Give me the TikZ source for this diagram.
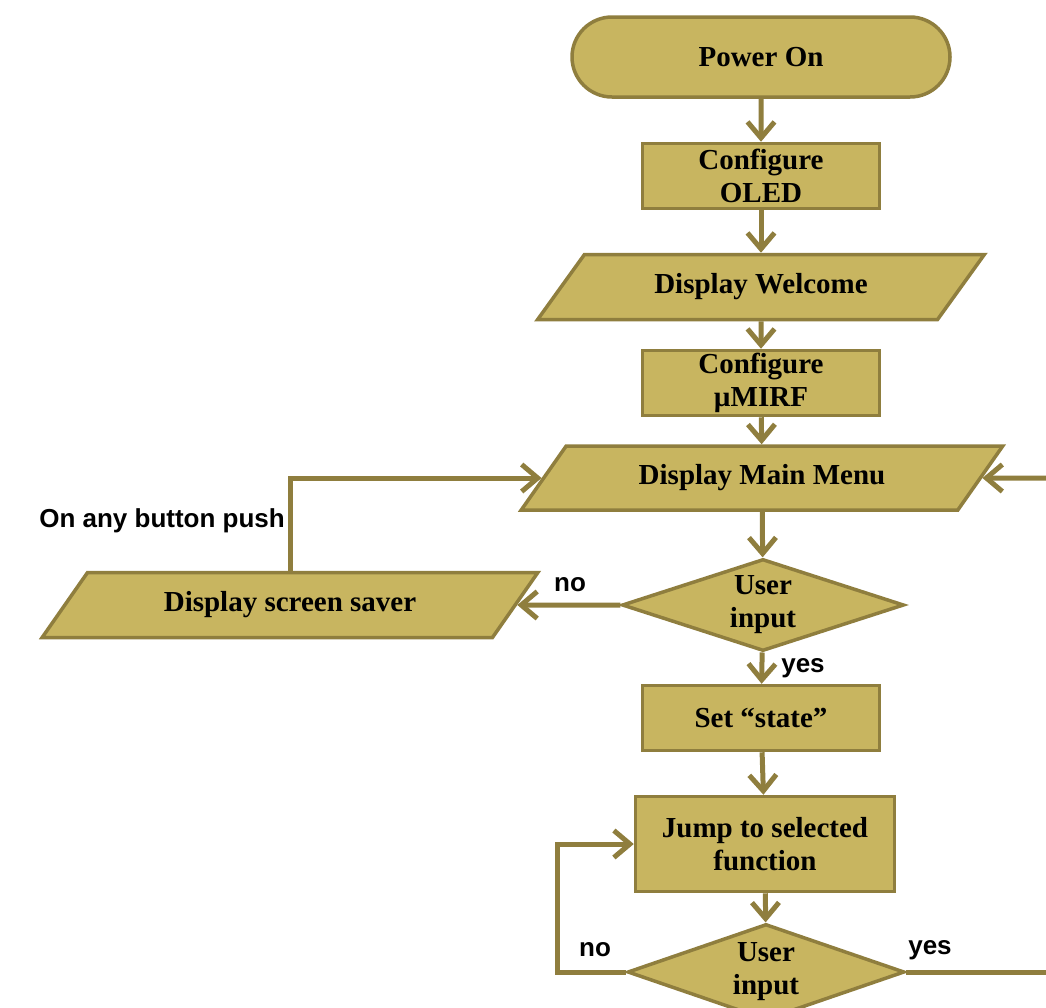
\documentclass[tikz,border=0pt]{standalone}
\usepackage{fontspec}
\setmainfont{Liberation Serif}
\newfontfamily\labelfont{Liberation Sans}
\usetikzlibrary{shapes.geometric,shapes.misc,arrows.meta}
\definecolor{kastenfill}{RGB}{200,181,96}
\definecolor{kastenrand}{RGB}{143,126,62}

\begin{document}
\begin{tikzpicture}[x=1pt,y=-1pt]
	% Einstellungen fuer die Kaesten und Pfeile
	\tikzset{
		base/.style={
			draw=kastenrand, % dunkle Umrandung
			fill=kastenfill, % goldene Fuellung
			line width=3.5pt,
			text=black, % Textfarbe
			align=center, % Text zentrieren
			inner sep=0pt,
			font=\bfseries\fontsize{29}{33}\selectfont
		},
		box/.style={base, rectangle, minimum width=237pt, minimum height=65pt},
		terminal/.style={base, rounded rectangle, minimum width=378pt, minimum height=80pt},
		io/.style={base, trapezium, trapezium left angle=43, trapezium right angle=137,
			trapezium stretches=true, minimum height=65pt},
		decision/.style={base, diamond, aspect=3, minimum width=282pt, minimum height=92pt},
		linie/.style={draw=kastenrand, line width=5pt},
		pfeil/.style={linie, -{Straight Barb[length=16pt,width=27pt]}},
		beschriftung/.style={font=\labelfont\bfseries\fontsize{26}{30}\selectfont, inner sep=0pt}
	}
	
	% Bildausschnitt festlegen
	\clip (0,0) rectangle (1046,1007);
	
	% Kaesten platzieren
	\node[terminal] (power) at (761,57) {Power On};
	\node[box] (oled) at (761,176) {Configure\\OLED};
	\node[io, minimum width=448pt] (welcome) at (761,287) {Display Welcome};
	\node[box] (mirf) at (761,383) {Configure\\µMIRF};
	\node[io, minimum width=482pt, minimum height=64pt] (menu) at (762,478) {Display Main Menu};
	\node[decision] (input) at (763,605) {User\\input};
	\node[io, minimum width=496pt] (saver) at (290,605) {Display screen saver};
	\node[box] (state) at (761,718) {Set “state”};
	\node[box, minimum width=259pt, minimum height=95pt] (jump) at (765,844) {Jump to selected\\function};
	\node[decision, minimum width=277pt, minimum height=96pt] (input2) at (766,972) {User\\input};
	
	% Hilfspunkte fuer Knicke und Raender
	\coordinate (rechts) at (1050,478);
	\coordinate (knick) at (557,844);
	\coordinate (ausgang) at (1050,972);
	
	% Verbindungen
	\draw[pfeil] (power) -- (oled);
	\draw[pfeil] (oled) -- (welcome);
	\draw[pfeil] (welcome) -- (mirf);
	\draw[pfeil] (mirf) -- (menu);
	\draw[pfeil] (menu) -- (input);
	\draw[pfeil] (input.west) -- (saver.east);
	\draw[pfeil] (saver.north) |- (menu.west);
	\draw[pfeil] (rechts) -- (menu.east);
	\draw[pfeil] (input) -- (state);
	\draw[pfeil] (state) -- (jump);
	\draw[pfeil] (jump) -- (input2);
	\draw[pfeil] (input2.west) -| (knick) -- (jump.west);
	\draw[linie] (input2.east) -- (ausgang);
	
	% Beschriftungen
	\node[beschriftung] (nein1) at (570,585) {no};
	\node[beschriftung] (ja1) at (803,668) {yes};
	\node[beschriftung, anchor=east] (taste) at (285,521) {On any button push};
	\node[beschriftung] (nein2) at (595,950) {no};
	\node[beschriftung] (ja2) at (930,950) {yes};
\end{tikzpicture}
\end{document}
